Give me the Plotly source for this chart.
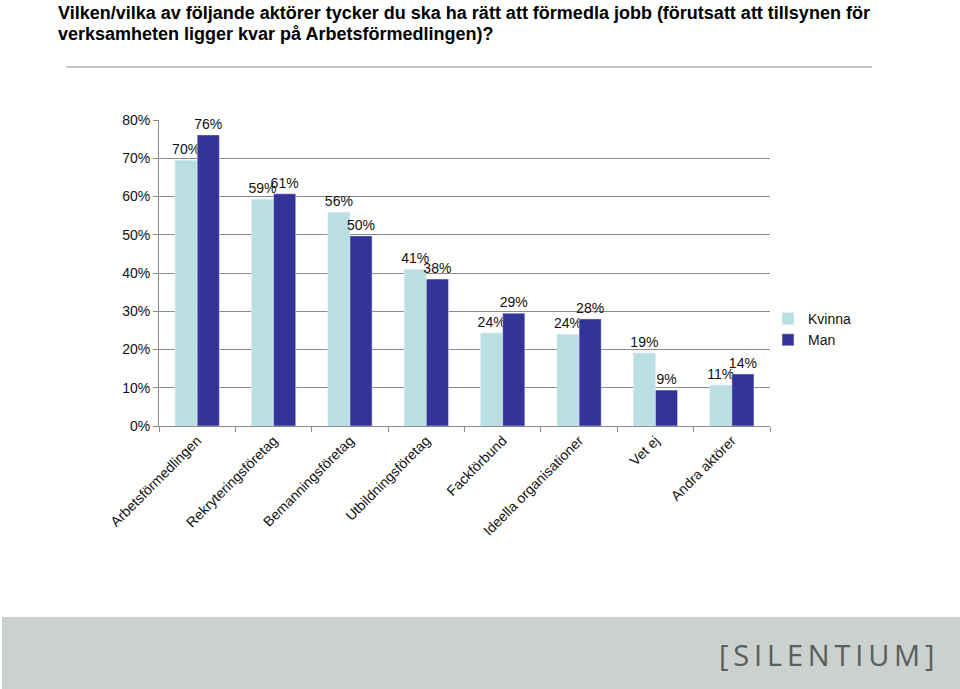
import plotly.graph_objects as go

categories = ["Arbetsförmedlingen", "Rekryteringsföretag", "Bemanningsföretag",
              "Utbildningsföretag", "Fackförbund", "Ideella organisationer",
              "Vet ej", "Andra aktörer"]
kvinna = [0.695, 0.593, 0.559, 0.41, 0.243, 0.24, 0.191, 0.107]
man = [0.761, 0.607, 0.497, 0.384, 0.295, 0.28, 0.094, 0.136]
kvinna_labels = ["70%", "59%", "56%", "41%", "24%", "24%", "19%", "11%"]
man_labels = ["76%", "61%", "50%", "38%", "29%", "28%", "9%", "14%"]
y_ticks = [0, 0.1, 0.2, 0.3, 0.4, 0.5, 0.6, 0.7, 0.8]
y_tick_labels = ["0%", "10%", "20%", "30%", "40%", "50%", "60%", "70%", "80%"]
title_lines = ["Vilken/vilka av följande aktörer tycker du ska ha rätt att förmedla jobb (förutsatt att tillsynen för",
               "verksamheten ligger kvar på Arbetsförmedlingen)?"]

FONT = "Liberation Sans, Arial, sans-serif"

fig = go.Figure()
fig.add_trace(go.Bar(x=categories, y=kvinna, name="Kvinna", marker_color="#b9dfe3",
                     text=kvinna_labels, textposition="outside", constraintext="none",
                     cliponaxis=False, textfont=dict(size=14, color="#111111", family=FONT)))
fig.add_trace(go.Bar(x=categories, y=man, name="Man", marker_color="#333399",
                     text=man_labels, textposition="outside", constraintext="none",
                     cliponaxis=False, textfont=dict(size=14, color="#111111", family=FONT)))

L, R, T, B = 159, 190, 120, 263
W, H = 960, 689
pw, ph = W - L - R, H - T - B

def px_x(x):
    return (x - L) / pw

def px_y(y):
    return (H - B - y) / ph

fig.update_layout(
    width=W, height=H,
    margin=dict(l=L, r=R, t=T, b=B, pad=0),
    paper_bgcolor="white", plot_bgcolor="white",
    barmode="group", bargap=0.42, bargroupgap=0,
    font=dict(family=FONT, size=14, color="#111111"),
    showlegend=True,
    legend=dict(x=px_x(768), y=px_y(303), xanchor="left", yanchor="top",
                font=dict(size=14, color="#111111"), itemwidth=30,
                tracegroupgap=0, bgcolor="rgba(0,0,0,0)"),
    xaxis=dict(type="category", showgrid=False, showline=True, linecolor="#8c8c8c",
               ticks="outside", tickson="boundaries", ticklen=5, tickcolor="#8c8c8c",
               tickangle=-45, tickfont=dict(size=14, color="#111111")),
    yaxis=dict(range=[0, 0.8], tickvals=y_ticks, ticktext=y_tick_labels,
               showgrid=True, gridcolor="#8c8c8c", gridwidth=1,
               showline=True, linecolor="#8c8c8c", ticks="outside", ticklen=5,
               tickcolor="#8c8c8c", zeroline=False,
               tickfont=dict(size=14, color="#111111")),
)

for i, line in enumerate(title_lines):
    fig.add_annotation(text=line, xref="paper", yref="paper",
                       x=px_x(56), y=px_y(1 + 21 * i), xanchor="left", yanchor="top",
                       showarrow=False, align="left",
                       font=dict(family=FONT, size=18, color="#000000", weight="bold"))

fig.add_shape(type="line", xref="paper", yref="paper",
              x0=px_x(66), x1=px_x(872), y0=px_y(67), y1=px_y(67),
              line=dict(color="#c8c8c8", width=2))
fig.add_shape(type="rect", xref="paper", yref="paper",
              x0=px_x(2), x1=px_x(962), y0=px_y(692), y1=px_y(617),
              fillcolor="#cbd1ce", line=dict(width=0), layer="below")
fig.add_annotation(text="[\u2009S\u2009I\u2009L\u2009E\u2009N\u2009T\u2009I\u2009U\u2009M\u2009]",
                   xref="paper", yref="paper",
                   x=px_x(937), y=px_y(654), xanchor="right", yanchor="middle",
                   showarrow=False,
                   font=dict(family="Open Sans, Noto Sans, sans-serif", size=29,
                             color="#5a5e5c", weight=400))

fig.write_html("out.html", config={"displayModeBar": False},
               post_script="document.body.style.margin='0';document.body.style.overflow='hidden';")
